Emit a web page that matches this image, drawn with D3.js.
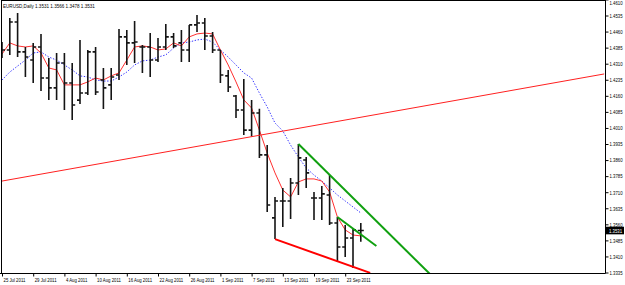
<!DOCTYPE html>
<html><head><meta charset="utf-8">
<script src="https://cdnjs.cloudflare.com/ajax/libs/d3/7.8.5/d3.min.js"></script>
<style>html,body{margin:0;padding:0;background:#fff;overflow:hidden}</style>
</head><body>
<script>
// ---- data (EURUSD daily, 25 Jul 2011 .. 27 Sep 2011) ----
const title = "EURUSD,Daily  1.3531 1.3566 1.3478 1.3531";
const dayLabels = ["25 Jul 2011","29 Jul 2011","4 Aug 2011","10 Aug 2011","16 Aug 2011","22 Aug 2011","26 Aug 2011","1 Sep 2011","7 Sep 2011","13 Sep 2011","19 Sep 2011","23 Sep 2011"];
const dayLabelIndex = [0,4,8,12,16,20,24,28,32,36,40,44];
const opens  = [1.4365,1.4374,1.4505,1.4365,1.4327,1.4388,1.4243,1.4197,1.4313,1.4220,1.4140,1.4173,1.4365,1.4234,1.4211,1.4257,1.4435,1.4407,1.4388,1.4388,1.4327,1.4388,1.4435,1.4407,1.4374,1.4491,1.4500,1.4439,1.4374,1.4253,1.4159,1.4094,1.4000,1.4080,1.3884,1.3590,1.3669,1.3669,1.3753,1.3860,1.3683,1.3683,1.3697,1.3566,1.3454,1.3496,1.3531];
const highs  = [1.4411,1.4523,1.4547,1.4388,1.4407,1.4449,1.4337,1.4360,1.4360,1.4313,1.4421,1.4374,1.4388,1.4290,1.4290,1.4472,1.4467,1.4509,1.4397,1.4453,1.4430,1.4495,1.4453,1.4467,1.4491,1.4537,1.4523,1.4458,1.4374,1.4281,1.4164,1.4239,1.4140,1.4100,1.3930,1.3688,1.3730,1.3776,1.3935,1.3874,1.3711,1.3739,1.3790,1.3594,1.3557,1.3543,1.3566];
const lows   = [1.4337,1.4351,1.4341,1.4248,1.4220,1.4183,1.4140,1.4140,1.4094,1.4047,1.4122,1.4164,1.4164,1.4098,1.4140,1.4234,1.4304,1.4313,1.4267,1.4248,1.4318,1.4374,1.4383,1.4318,1.4318,1.4458,1.4374,1.4360,1.4220,1.4178,1.4056,1.3977,1.3970,1.3870,1.3618,1.3491,1.3548,1.3585,1.3697,1.3730,1.3580,1.3580,1.3557,1.3384,1.3407,1.3356,1.3478];
const closes = [1.4374,1.4505,1.4365,1.4341,1.4388,1.4243,1.4197,1.4313,1.4220,1.4117,1.4173,1.4365,1.4178,1.4197,1.4248,1.4435,1.4407,1.4411,1.4388,1.4327,1.4388,1.4435,1.4393,1.4374,1.4491,1.4500,1.4439,1.4374,1.4257,1.4201,1.4094,1.4000,1.4080,1.3884,1.3650,1.3669,1.3669,1.3753,1.3870,1.3800,1.3683,1.3702,1.3566,1.3454,1.3496,1.3534,1.3531];
const maFast = [1.4355,1.4407,1.4393,1.4388,1.4393,1.4360,1.4290,1.4281,1.4211,1.4211,1.4211,1.4225,1.4243,1.4234,1.4253,1.4267,1.4327,1.4388,1.4393,1.4388,1.4374,1.4379,1.4407,1.4393,1.4435,1.4449,1.4453,1.4449,1.4374,1.4304,1.4225,1.4141,1.4103,1.4000,1.3893,1.3800,1.3720,1.3688,1.3758,1.3772,1.3772,1.3762,1.3711,1.3594,1.3534,1.3510,1.3506];
const maSlow = [1.4234,1.4271,1.4299,1.4327,1.4360,1.4365,1.4341,1.4327,1.4304,1.4281,1.4253,1.4248,1.4234,1.4229,1.4229,1.4248,1.4271,1.4304,1.4323,1.4327,1.4341,1.4351,1.4383,1.4407,1.4411,1.4421,1.4425,1.4411,1.4374,1.4341,1.4304,1.4267,1.4243,1.4173,1.4108,1.4033,1.3996,1.3930,1.3874,1.3823,1.3790,1.3762,1.3730,1.3697,1.3669,1.3641,1.3613];
const trendRed    = [[0,1.3762],[77.2,1.4262]];
const channelTop  = [[38,1.3935],[55,1.3323]];
const channelMid  = [[43,1.3594],[48,1.3459]];
const supportLow  = [[35,1.3491],[47.2,1.3333]];
const priceTicks  = [1.3335,1.3410,1.3485,1.3560,1.3635,1.3710,1.3785,1.3860,1.3935,1.4010,1.4085,1.4160,1.4235,1.4310,1.4385,1.4460,1.4535,1.4610];
const lastPrice = 1.3531;

// ---- layout ----
const W = 625, H = 285;
const plot = {l:1.5, r:605.5, t:0.5, b:273.5};
const FONT = "'Liberation Sans', Arial, sans-serif";
const FS = 5.8, SQ = 0.74;

const x = d3.scaleLinear().domain([0, 77]).range([2, 2 + 7.8*77]);
const y = d3.scaleLinear().domain([1.3335, 1.4535]).range([272.5, 15.5]);

const svg = d3.select("body").append("svg").attr("width", W).attr("height", H)
  .style("display","block").style("font-family", FONT);
svg.append("rect").attr("width", W).attr("height", H).attr("fill", "#fff");

svg.append("clipPath").attr("id","pc").append("rect")
  .attr("x", plot.l).attr("y", plot.t).attr("width", plot.r-plot.l).attr("height", plot.b-plot.t);
const g = svg.append("g").attr("clip-path","url(#pc)");

const bars = d3.range(opens.length).map(i => ({i, o:opens[i], h:highs[i], l:lows[i], c:closes[i]}));

// moving averages
const line = d3.line().x((d,i)=>x(i)).y(d=>y(d));
g.append("path").attr("d", line(maSlow)).attr("fill","none")
  .attr("stroke","#3535ff").attr("stroke-width",1).attr("stroke-dasharray","1.4,1.6");
g.append("path").attr("d", line(maFast)).attr("fill","none")
  .attr("stroke","#ff3030").attr("stroke-width",1);

// bars
const bg = g.append("g").attr("stroke","#141414").attr("stroke-width",1.6);
bg.selectAll("line.v").data(bars).join("line").attr("class","v")
  .attr("x1",d=>x(d.i)).attr("x2",d=>x(d.i)).attr("y1",d=>y(d.h)).attr("y2",d=>y(d.l));
bg.selectAll("line.o").data(bars).join("line").attr("class","o")
  .attr("x1",d=>x(d.i)-3).attr("x2",d=>x(d.i)).attr("y1",d=>y(d.o)).attr("y2",d=>y(d.o));
bg.selectAll("line.c").data(bars).join("line").attr("class","c")
  .attr("x1",d=>x(d.i)).attr("x2",d=>x(d.i)+3).attr("y1",d=>y(d.c)).attr("y2",d=>y(d.c));

// drawn lines
const seg = (pts, col, w) => g.append("line")
  .attr("x1", x(pts[0][0])).attr("y1", y(pts[0][1]))
  .attr("x2", x(pts[1][0])).attr("y2", y(pts[1][1]))
  .attr("stroke", col).attr("stroke-width", w);
seg(trendRed, "#ff2020", 1);
seg(channelTop, "#10a010", 2);
seg(channelMid, "#10a010", 2);
seg(supportLow, "#ff0000", 2);

// frame
svg.append("line").attr("x1",plot.l).attr("x2",plot.l).attr("y1",0).attr("y2",plot.b).attr("stroke","#000");
svg.append("line").attr("x1",plot.l).attr("x2",plot.r).attr("y1",plot.t).attr("y2",plot.t).attr("stroke","#000");
svg.append("line").attr("x1",plot.r).attr("x2",plot.r).attr("y1",0).attr("y2",plot.b).attr("stroke","#000");
svg.append("line").attr("x1",0).attr("x2",plot.r).attr("y1",plot.b).attr("y2",plot.b).attr("stroke","#000");

// horizontal squeeze via transform (keeps text as real text)
const squeeze = (sel, s) => sel.each(function(){
  const t = d3.select(this);
  const x0 = +t.attr("x") || 0;
  t.attr("x", x0 / s).attr("transform", `scale(${s},1)`);
});

const ay = svg.append("g").attr("transform",`translate(${plot.r},0)`)
  .call(d3.axisRight(y).tickValues(priceTicks).tickSize(3).tickFormat(d3.format(".4f")));
ay.select(".domain").remove();
ay.selectAll("line").attr("stroke","#000");
ay.selectAll("text").attr("x",4).attr("font-size",FS).attr("font-family",FONT).attr("fill","#000").call(squeeze, SQ);
// keep the topmost label inside the picture
ay.selectAll(".tick").filter(d => y(d) < 3).select("text").attr("y", 3 - y(1.4610));

const ax = svg.append("g").attr("transform",`translate(0,${plot.b})`)
  .call(d3.axisBottom(x).tickValues(dayLabelIndex).tickSize(3).tickFormat((d,i)=>dayLabels[i]));
ax.select(".domain").remove();
ax.selectAll("line").attr("stroke","#000");
ax.selectAll("text").attr("text-anchor","start").attr("x",1).attr("y",4.5)
  .attr("font-size",FS).attr("font-family",FONT).attr("fill","#000").call(squeeze, SQ);

// last price box
const ly = y(lastPrice);
svg.append("rect").attr("x", plot.r).attr("y", ly-3.8).attr("width", 18.5).attr("height", 7.6).attr("fill","#000");
svg.append("g").attr("transform",`translate(${plot.r+3.5},${ly})`)
  .append("text").attr("x",0).attr("dy","0.35em")
  .attr("font-size",FS).attr("fill","#fff").text(d3.format(".4f")(lastPrice)).call(squeeze, SQ);

// title
const tg = svg.append("g").attr("transform","translate(3,7.5)");
const tt = tg.append("text").attr("x",0).attr("y",0).attr("font-size",FS).attr("fill","#000").text(title);
const tw = tt.node().getComputedTextLength();
tt.attr("transform", `scale(${92/tw},1)`);
</script>
</body></html>
